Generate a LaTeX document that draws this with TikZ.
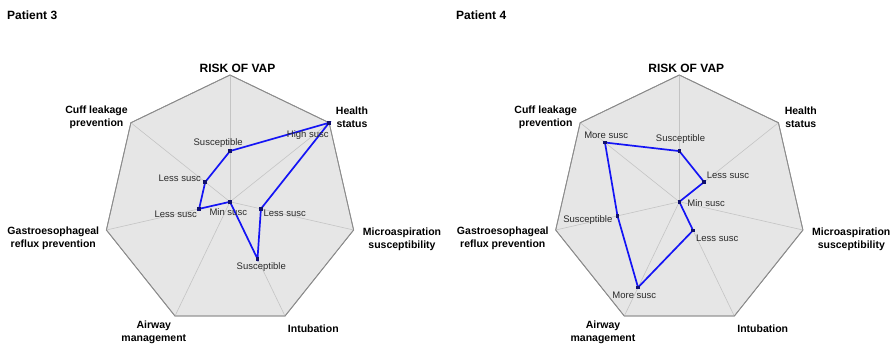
\documentclass[tikz,border=0pt]{standalone}
\usepackage{fontspec}
\setmainfont{Liberation Sans}
\definecolor{fillgray}{HTML}{E6E6E6}
\definecolor{gridgray}{HTML}{8C8C8C}
\definecolor{spokegray}{HTML}{C4C4C4}
\definecolor{seriesblue}{HTML}{1414F5}
\definecolor{markblue}{HTML}{10106E}
\definecolor{textgray}{HTML}{2A2A2A}
\begin{document}
\begin{tikzpicture}[x=1pt,y=-1pt,
  gridpoly/.style={draw=gridgray, fill=fillgray, line width=0.8pt, line join=miter},
  spoke/.style={draw=spokegray, line width=0.6pt},
  series/.style={draw=seriesblue, line width=1.7pt, line join=miter},
  mk/.style={fill=markblue, draw=none, rectangle, minimum size=3.6pt, inner sep=0pt},
  axlab/.style={font=\fontsize{10.5}{13}\selectfont\bfseries, align=center, inner sep=0pt},
  onelab/.style={font=\fontsize{10.5}{13}\selectfont\bfseries, anchor=base, inner sep=0pt},
  vallab/.style={font=\fontsize{9.5}{11}\selectfont, text=textgray, anchor=base, inner sep=0pt},
  titlelab/.style={font=\fontsize{12}{14}\selectfont\bfseries, inner sep=0pt},
]
\useasboundingbox (0,0) rectangle (894,344);
\fill[white] (0,0) rectangle (894,344);

% ---------------- Patient 3 ----------------
\coordinate (Lc) at (230,201.8);
\foreach \k in {0,...,6}
  \coordinate (L\k) at ({230+126.8*sin(\k*360/7)},{201.8-126.8*cos(\k*360/7)});
\draw[gridpoly] (L0) -- (L1) -- (L2) -- (L3) -- (L4) -- (L5) -- (L6) -- cycle;
\foreach \k in {0,...,6} \draw[spoke] (Lc) -- (L\k);
\draw[gridpoly, fill=none] (L0) -- (L1) -- (L2) -- (L3) -- (L4) -- (L5) -- (L6) -- cycle;
\foreach \k/\v in {0/0.4,1/1,2/0.25,3/0.5,4/0,5/0.25,6/0.25}
  \coordinate (Lp\k) at ({230+\v*126.8*sin(\k*360/7)},{201.8-\v*126.8*cos(\k*360/7)});
\draw[series] (Lp0) -- (Lp1) -- (Lp2) -- (Lp3) -- (Lp4) -- (Lp5) -- (Lp6) -- cycle;
\foreach \k in {0,...,6} \node[mk] (Lm\k) at (Lp\k) {};

\node[titlelab, anchor=base west] (t3) at (7,19.3) {Patient 3};
\node[titlelab, anchor=base] (Lrisk) at (237.5,72.7) {RISK OF VAP};
\node[axlab] (Lhealth) at (352,117.5) {Health\\status};
\node[axlab] (Lmicro) at (402,239) {Microaspiration\\susceptibility};
\node[onelab] (Lintub) at (313.3,332.1) {Intubation};
\node[axlab] (Lairway) at (153.8,332) {Airway\\management};
\node[axlab] (Lgerd) at (53.3,238.5) {Gastroesophageal\\reflux prevention};
\node[axlab] (Lcuff) at (96.5,117.5) {Cuff leakage\\prevention};

\node[vallab] (Lv0) at (218.2,145.1) {Susceptible};
\node[vallab] (Lv1) at (307.8,137.1) {High susc};
\node[vallab] (Lv2) at (284.7,216.7) {Less susc};
\node[vallab] (Lv3) at (261.3,269.7) {Susceptible};
\node[vallab] (Lv4) at (228.3,215.7) {Min susc};
\node[vallab] (Lv5) at (175.8,217.7) {Less susc};
\node[vallab] (Lv6) at (179.8,181.7) {Less susc};

% ---------------- Patient 4 ----------------
\coordinate (Rc) at (679.3,201.8);
\foreach \k in {0,...,6}
  \coordinate (R\k) at ({679.3+126.8*sin(\k*360/7)},{201.8-126.8*cos(\k*360/7)});
\draw[gridpoly] (R0) -- (R1) -- (R2) -- (R3) -- (R4) -- (R5) -- (R6) -- cycle;
\foreach \k in {0,...,6} \draw[spoke] (Rc) -- (R\k);
\draw[gridpoly, fill=none] (R0) -- (R1) -- (R2) -- (R3) -- (R4) -- (R5) -- (R6) -- cycle;
\foreach \k/\v in {0/0.4,1/0.25,2/0,3/0.25,4/0.75,5/0.5,6/0.75}
  \coordinate (Rp\k) at ({679.3+\v*126.8*sin(\k*360/7)},{201.8-\v*126.8*cos(\k*360/7)});
\draw[series] (Rp0) -- (Rp1) -- (Rp2) -- (Rp3) -- (Rp4) -- (Rp5) -- (Rp6) -- cycle;
\foreach \k in {0,...,6} \node[mk] (Rm\k) at (Rp\k) {};

\node[titlelab, anchor=base west] (t4) at (456,19.3) {Patient 4};
\node[titlelab, anchor=base] (Rrisk) at (686.3,72.7) {RISK OF VAP};
\node[axlab] (Rhealth) at (800.8,117.5) {Health\\status};
\node[axlab] (Rmicro) at (851.3,239) {Microaspiration\\susceptibility};
\node[onelab] (Rintub) at (762.7,332.1) {Intubation};
\node[axlab] (Rairway) at (603,332) {Airway\\management};
\node[axlab] (Rgerd) at (502.8,238.5) {Gastroesophageal\\reflux prevention};
\node[axlab] (Rcuff) at (545.7,117.5) {Cuff leakage\\prevention};

\node[vallab] (Rv0) at (680.5,141.1) {Susceptible};
\node[vallab] (Rv1) at (728,178.4) {Less susc};
\node[vallab] (Rv2) at (706.2,206.4) {Min susc};
\node[vallab] (Rv3) at (717.2,241.7) {Less susc};
\node[vallab] (Rv4) at (634.3,298.4) {More susc};
\node[vallab] (Rv5) at (587.8,222.4) {Susceptible};
\node[vallab] (Rv6) at (606.2,138.4) {More susc};
\end{tikzpicture}
\end{document}
